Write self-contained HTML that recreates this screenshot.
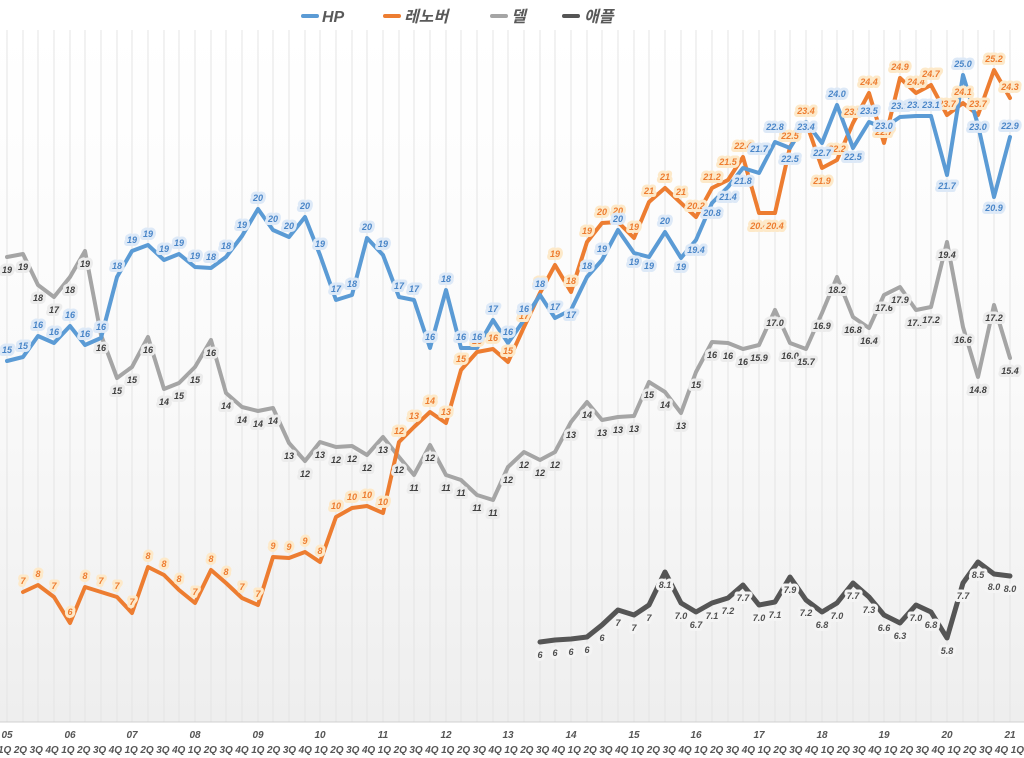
<!DOCTYPE html>
<html><head><meta charset="utf-8"><style>
html,body{margin:0;padding:0;background:#fff;}
svg{display:block;font-family:"Liberation Sans","Noto Sans CJK KR",sans-serif;}
.l{font-size:9px;font-weight:bold;font-style:italic;text-anchor:middle;paint-order:stroke;stroke-width:6px;stroke-linejoin:round;}
.b{fill:#4a86c8;stroke:#dde9f7;}
.o{fill:#ed7d31;stroke:#fde9c9;}
.g{fill:#404040;stroke:#ececec;}
.a{fill:#505050;stroke:#f4f4f4;}
.ax{font-size:10px;font-weight:bold;font-style:italic;fill:#555;text-anchor:middle;}
.lg{font-size:16px;font-weight:bold;font-style:italic;fill:#595959;}
</style></head><body>
<svg width="1024" height="758" viewBox="0 0 1024 758" xmlns="http://www.w3.org/2000/svg">
<defs><linearGradient id="bg" x1="0" y1="0" x2="0" y2="1">
<stop offset="0" stop-color="#ffffff"/><stop offset="0.5" stop-color="#fafafa"/><stop offset="1" stop-color="#eeeeee"/></linearGradient></defs>
<rect x="0" y="30" width="1024" height="692" fill="url(#bg)"/>
<g stroke="#e4e4e4" stroke-width="1">
<path d="M7 30V722M23 30V722M38 30V722M54 30V722M70 30V722M85 30V722M101 30V722M117 30V722M132 30V722M148 30V722M164 30V722M179 30V722M195 30V722M211 30V722M226 30V722M242 30V722M258 30V722M273 30V722M289 30V722M305 30V722M320 30V722M336 30V722M352 30V722M367 30V722M383 30V722M399 30V722M414 30V722M430 30V722M446 30V722M461 30V722M477 30V722M493 30V722M508 30V722M524 30V722M540 30V722M555 30V722M571 30V722M587 30V722M602 30V722M618 30V722M634 30V722M649 30V722M665 30V722M681 30V722M696 30V722M712 30V722M728 30V722M743 30V722M759 30V722M775 30V722M790 30V722M806 30V722M822 30V722M837 30V722M853 30V722M869 30V722M884 30V722M900 30V722M916 30V722M931 30V722M947 30V722M963 30V722M978 30V722M994 30V722M1010 30V722"/>
</g>
<line x1="0" y1="722" x2="1024" y2="722" stroke="#d0d0d0"/>
<g fill="none" stroke-linejoin="round" stroke-linecap="round">
<polyline stroke="#a5a5a5" stroke-width="4" points="7,257 23,254 38,285 54,297 70,277 85,251 101,335 117,378 132,367 148,337 164,389 179,383 195,367 211,340 226,393 242,407 258,411 273,408 289,443 305,461 320,442 336,447 352,446 367,455 383,437 399,457 414,475 430,445 446,475 461,480 477,495 493,500 508,467 524,452 540,460 555,452 571,422 587,402 602,420 618,417 634,416 649,382 665,392 681,413 696,372 712,342 728,343 743,349 759,345 775,310 790,343 806,349 822,313 837,277 853,317 869,328 884,295 900,287 916,310 931,307 947,242 963,327 978,377 994,305 1010,358"/>
<polyline stroke="#ed7d31" stroke-width="4" points="23,592 38,585 54,597 70,623 85,587 101,592 117,597 132,613 148,567 164,575 179,590 195,603 211,570 226,583 242,598 258,605 273,557 289,558 305,552 320,562 336,517 352,508 367,506 383,513 399,442 414,427 430,412 446,423 461,370 477,352 493,349 508,362 524,327 540,293 555,265 571,292 587,242 602,223 618,222 634,238 649,202 665,188 681,203 696,217 712,188 728,180 743,157 759,213 775,213 790,147 806,122 822,168 837,160 853,123 869,93 884,143 900,78 916,93 931,85 947,115 963,103 978,115 994,70 1010,98"/>
<polyline stroke="#5b9bd5" stroke-width="4" points="7,361 23,357 38,336 54,343 70,326 85,345 101,338 117,277 132,251 148,245 164,260 179,254 195,267 211,268 226,257 242,236 258,209 273,230 289,237 305,217 320,255 336,300 352,295 367,238 383,255 399,297 414,300 430,348 446,290 461,348 477,348 493,320 508,343 524,320 540,295 555,318 571,310 587,277 602,260 618,230 634,253 649,257 665,232 681,258 696,240 712,203 728,187 743,168 759,173 775,142 790,148 806,122 822,143 837,105 853,148 869,122 884,128 900,117 916,116 931,116 947,175 963,75 978,125 994,197 1010,137"/>
<polyline stroke="#555555" stroke-width="5" points="540,642 555,640 571,639 587,637 602,625 618,610 634,615 649,605 665,572 681,603 696,612 712,603 728,598 743,585 759,605 775,602 790,577 806,600 822,612 837,603 853,583 869,597 884,615 900,623 916,605 931,612 947,638 963,583 978,562 994,574 1010,576"/>
</g>
<g class="l g">
<text x="7" y="273">19</text><text x="23" y="270">19</text><text x="38" y="301">18</text><text x="54" y="313">17</text><text x="70" y="293">18</text><text x="85" y="267">19</text><text x="101" y="351">16</text><text x="117" y="394">15</text><text x="132" y="383">15</text><text x="148" y="353">16</text><text x="164" y="405">14</text><text x="179" y="399">15</text><text x="195" y="383">15</text><text x="211" y="356">16</text><text x="226" y="409">14</text><text x="242" y="423">14</text><text x="258" y="427">14</text><text x="273" y="424">14</text><text x="289" y="459">13</text><text x="305" y="477">12</text><text x="320" y="458">13</text><text x="336" y="463">12</text><text x="352" y="462">12</text><text x="367" y="471">12</text><text x="383" y="453">13</text><text x="399" y="473">12</text><text x="414" y="491">11</text><text x="430" y="461">12</text><text x="446" y="491">11</text><text x="461" y="496">11</text><text x="477" y="511">11</text><text x="493" y="516">11</text><text x="508" y="483">12</text><text x="524" y="468">12</text><text x="540" y="476">12</text><text x="555" y="468">12</text><text x="571" y="438">13</text><text x="587" y="418">14</text><text x="602" y="436">13</text><text x="618" y="433">13</text><text x="634" y="432">13</text><text x="649" y="398">15</text><text x="665" y="408">14</text><text x="681" y="429">13</text><text x="696" y="388">15</text><text x="712" y="358">16</text><text x="728" y="359">16</text><text x="743" y="365">16</text><text x="759" y="361">15.9</text><text x="775" y="326">17.0</text><text x="790" y="359">16.0</text><text x="806" y="365">15.7</text><text x="822" y="329">16.9</text><text x="837" y="293">18.2</text><text x="853" y="333">16.8</text><text x="869" y="344">16.4</text><text x="884" y="311">17.6</text><text x="900" y="303">17.9</text><text x="916" y="326">17.1</text><text x="931" y="323">17.2</text><text x="947" y="258">19.4</text><text x="963" y="343">16.6</text><text x="978" y="393">14.8</text><text x="994" y="321">17.2</text><text x="1010" y="374">15.4</text>
</g>
<g class="l o">
<text x="23" y="584">7</text><text x="38" y="577">8</text><text x="54" y="589">7</text><text x="70" y="615">6</text><text x="85" y="579">8</text><text x="101" y="584">7</text><text x="117" y="589">7</text><text x="132" y="605">7</text><text x="148" y="559">8</text><text x="164" y="567">8</text><text x="179" y="582">8</text><text x="195" y="595">7</text><text x="211" y="562">8</text><text x="226" y="575">8</text><text x="242" y="590">7</text><text x="258" y="597">7</text><text x="273" y="549">9</text><text x="289" y="550">9</text><text x="305" y="544">9</text><text x="320" y="554">8</text><text x="336" y="509">10</text><text x="352" y="500">10</text><text x="367" y="498">10</text><text x="383" y="505">10</text><text x="399" y="434">12</text><text x="414" y="419">13</text><text x="430" y="404">14</text><text x="446" y="415">13</text><text x="461" y="362">15</text><text x="477" y="344">16</text><text x="493" y="341">16</text><text x="508" y="354">15</text><text x="524" y="319">17</text><text x="540" y="285">18</text><text x="555" y="257">19</text><text x="571" y="284">18</text><text x="587" y="234">19</text><text x="602" y="215">20</text><text x="618" y="214">20</text><text x="634" y="230">19</text><text x="649" y="194">21</text><text x="665" y="180">21</text><text x="681" y="195">21</text><text x="696" y="209">20.2</text><text x="712" y="180">21.2</text><text x="728" y="165">21.5</text><text x="743" y="149">22.4</text><text x="759" y="229">20.4</text><text x="775" y="229">20.4</text><text x="790" y="139">22.5</text><text x="806" y="114">23.4</text><text x="822" y="184">21.9</text><text x="837" y="152">22.2</text><text x="853" y="115">23.7</text><text x="869" y="85">24.4</text><text x="884" y="135">22.7</text><text x="900" y="70">24.9</text><text x="916" y="85">24.4</text><text x="931" y="77">24.7</text><text x="947" y="107">23.7</text><text x="963" y="95">24.1</text><text x="978" y="107">23.7</text><text x="994" y="62">25.2</text><text x="1010" y="90">24.3</text>
</g>
<g class="l b">
<text x="7" y="353">15</text><text x="23" y="349">15</text><text x="38" y="328">16</text><text x="54" y="335">16</text><text x="70" y="318">16</text><text x="85" y="337">16</text><text x="101" y="330">16</text><text x="117" y="269">18</text><text x="132" y="243">19</text><text x="148" y="237">19</text><text x="164" y="252">19</text><text x="179" y="246">19</text><text x="195" y="259">19</text><text x="211" y="260">18</text><text x="226" y="249">18</text><text x="242" y="228">19</text><text x="258" y="201">20</text><text x="273" y="222">20</text><text x="289" y="229">20</text><text x="305" y="209">20</text><text x="320" y="247">19</text><text x="336" y="292">17</text><text x="352" y="287">18</text><text x="367" y="230">20</text><text x="383" y="247">19</text><text x="399" y="289">17</text><text x="414" y="292">17</text><text x="430" y="340">16</text><text x="446" y="282">18</text><text x="461" y="340">16</text><text x="477" y="340">16</text><text x="493" y="312">17</text><text x="508" y="335">16</text><text x="524" y="312">16</text><text x="540" y="287">18</text><text x="555" y="310">17</text><text x="571" y="318">17</text><text x="587" y="269">18</text><text x="602" y="252">19</text><text x="618" y="222">20</text><text x="634" y="265">19</text><text x="649" y="269">19</text><text x="665" y="224">20</text><text x="681" y="270">19</text><text x="696" y="253">19.4</text><text x="712" y="216">20.8</text><text x="728" y="200">21.4</text><text x="743" y="184">21.8</text><text x="759" y="152">21.7</text><text x="775" y="130">22.8</text><text x="790" y="162">22.5</text><text x="806" y="130">23.4</text><text x="822" y="156">22.7</text><text x="837" y="97">24.0</text><text x="853" y="160">22.5</text><text x="869" y="114">23.5</text><text x="884" y="129">23.0</text><text x="900" y="109">23.1</text><text x="916" y="108">23.1</text><text x="931" y="108">23.1</text><text x="947" y="189">21.7</text><text x="963" y="67">25.0</text><text x="978" y="130">23.0</text><text x="994" y="211">20.9</text><text x="1010" y="129">22.9</text>
</g>
<g class="l a">
<text x="540" y="658">6</text><text x="555" y="656">6</text><text x="571" y="655">6</text><text x="587" y="653">6</text><text x="602" y="641">6</text><text x="618" y="626">7</text><text x="634" y="631">7</text><text x="649" y="621">7</text><text x="665" y="588">8.1</text><text x="681" y="619">7.0</text><text x="696" y="628">6.7</text><text x="712" y="619">7.1</text><text x="728" y="614">7.2</text><text x="743" y="601">7.7</text><text x="759" y="621">7.0</text><text x="775" y="618">7.1</text><text x="790" y="593">7.9</text><text x="806" y="616">7.2</text><text x="822" y="628">6.8</text><text x="837" y="619">7.0</text><text x="853" y="599">7.7</text><text x="869" y="613">7.3</text><text x="884" y="631">6.6</text><text x="900" y="639">6.3</text><text x="916" y="621">7.0</text><text x="931" y="628">6.8</text><text x="947" y="654">5.8</text><text x="963" y="599">7.7</text><text x="978" y="578">8.5</text><text x="994" y="590">8.0</text><text x="1010" y="592">8.0</text>
</g>
<g class="ax">
<text x="7" y="738">05</text><text x="70" y="738">06</text><text x="132" y="738">07</text><text x="195" y="738">08</text><text x="258" y="738">09</text><text x="320" y="738">10</text><text x="383" y="738">11</text><text x="446" y="738">12</text><text x="508" y="738">13</text><text x="571" y="738">14</text><text x="634" y="738">15</text><text x="696" y="738">16</text><text x="759" y="738">17</text><text x="822" y="738">18</text><text x="884" y="738">19</text><text x="947" y="738">20</text><text x="1010" y="738">21</text>
</g>
<text class="ax" y="753" style="text-anchor:start" x="-2" textLength="1026" lengthAdjust="spacing">1Q 2Q 3Q 4Q 1Q 2Q 3Q 4Q 1Q 2Q 3Q 4Q 1Q 2Q 3Q 4Q 1Q 2Q 3Q 4Q 1Q 2Q 3Q 4Q 1Q 2Q 3Q 4Q 1Q 2Q 3Q 4Q 1Q 2Q 3Q 4Q 1Q 2Q 3Q 4Q 1Q 2Q 3Q 4Q 1Q 2Q 3Q 4Q 1Q 2Q 3Q 4Q 1Q 2Q 3Q 4Q 1Q 2Q 3Q 4Q 1Q 2Q 3Q 4Q 1Q</text>
<g stroke-width="4" stroke-linecap="round">
<line x1="303" y1="16" x2="317" y2="16" stroke="#5b9bd5"/>
<line x1="385" y1="16" x2="399" y2="16" stroke="#ed7d31"/>
<line x1="492" y1="16" x2="506" y2="16" stroke="#a5a5a5"/>
<line x1="564" y1="16" x2="578" y2="16" stroke="#555555"/>
</g>
<text class="lg" x="322" y="22">HP</text>
<text class="lg" x="404" y="22">레노버</text>
<text class="lg" x="511" y="22">델</text>
<text class="lg" x="584" y="22">애플</text>
</svg>
</body></html>
